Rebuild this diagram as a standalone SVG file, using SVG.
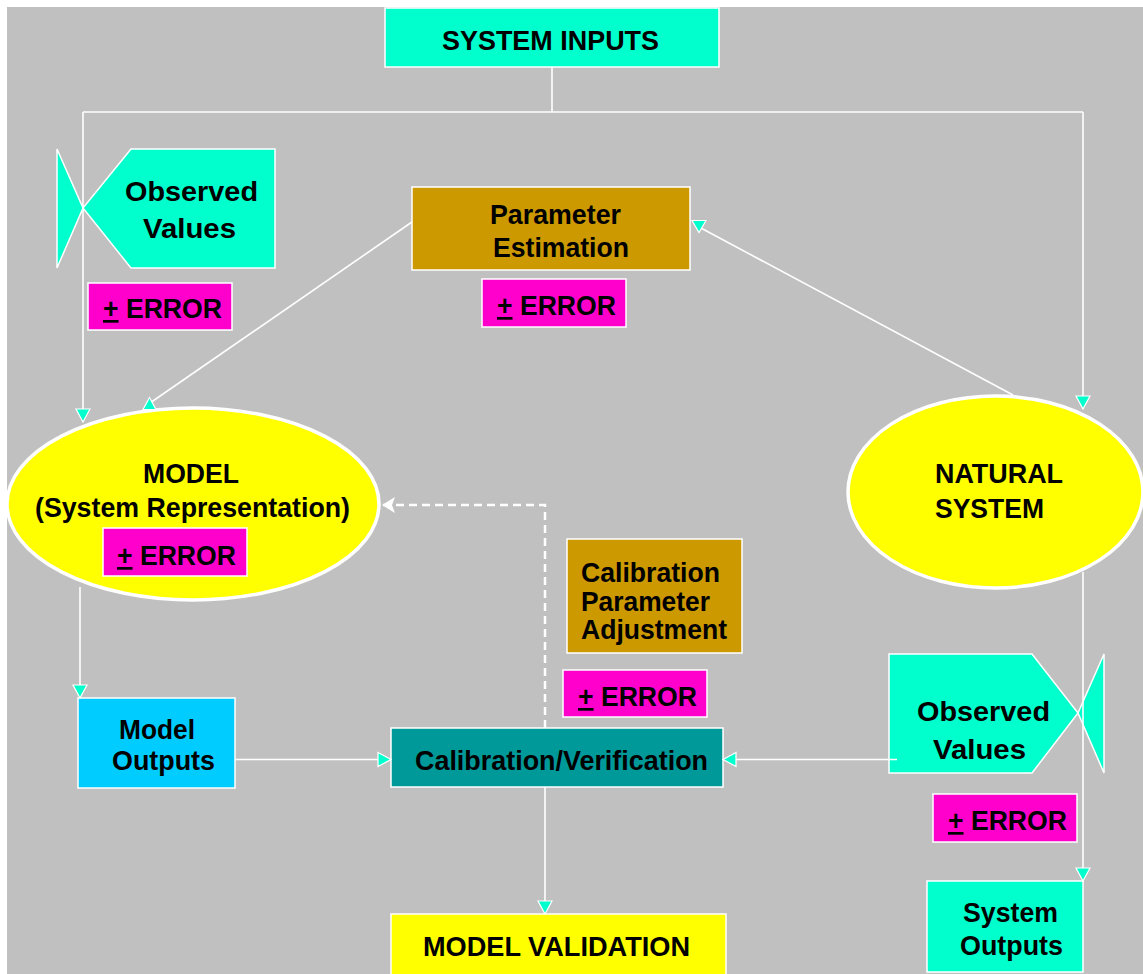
<svg xmlns="http://www.w3.org/2000/svg" width="1143" height="974" viewBox="0 0 1143 974">
<defs>
<style>
text{font-family:"Liberation Sans",Arial,Helvetica,sans-serif;font-weight:bold;font-size:28px;fill:#000}
.err{font-size:27px}
.box{stroke:#fff;stroke-width:1.5}
.cyan{fill:#00FFCC}
.gold{fill:#CC9900}
.mag{fill:#FF00CC}
.teal{fill:#009999}
.sky{fill:#00CCFF}
.yel{fill:#FFFF00}
.ell{fill:#FFFF00;stroke:#fff;stroke-width:3.5}
.conn{stroke:#fff;stroke-width:1.6;fill:none}
.dash{stroke:#fff;stroke-width:2.5;fill:none;stroke-dasharray:8 5}
</style>
<marker id="arr" markerUnits="userSpaceOnUse" viewBox="-2 -2 18 18" markerWidth="18" markerHeight="18" refX="13" refY="7" orient="auto">
<path d="M0,0 L13,7 L0,14 Z" fill="#00FFCC" stroke="#fff" stroke-width="1.2"/>
</marker>
<marker id="arrUp" markerUnits="userSpaceOnUse" viewBox="-2 -2 18 18" markerWidth="18" markerHeight="18" refX="6.5" refY="7" orient="-90">
<path d="M0,0 L12,6.5 L0,13 Z" fill="#00FFCC" stroke="#fff" stroke-width="1.2"/>
</marker>
<marker id="arrDown" markerUnits="userSpaceOnUse" viewBox="-2 -2 18 18" markerWidth="18" markerHeight="18" refX="6.5" refY="7" orient="90">
<path d="M0,0 L12,7 L0,14 Z" fill="#00FFCC" stroke="#fff" stroke-width="1.2"/>
</marker>
<marker id="warr" markerUnits="userSpaceOnUse" viewBox="-2 -2 18 20" markerWidth="18" markerHeight="20" refX="13" refY="8" orient="auto">
<path d="M0,0 L13,8 L0,16 L3,8 Z" fill="#fff"/>
</marker>
</defs>
<rect x="0" y="0" width="1143" height="974" fill="#fff"/>
<rect x="7" y="7" width="1136" height="967" fill="#C0C0C0"/>

<g id="system-inputs">
<rect class="box cyan" x="385" y="8" width="334" height="59"/>
<text x="442" y="50" textLength="217" lengthAdjust="spacingAndGlyphs">SYSTEM INPUTS</text>
</g>

<g id="observed-values-left">
<polygon class="box cyan" points="57,149 83,208 57,268"/>
<polygon class="box cyan" points="83,208 131,149 275,149 275,268 131,268"/>
<text x="125" y="201" textLength="133" lengthAdjust="spacingAndGlyphs">Observed</text>
<text x="143" y="238" textLength="93" lengthAdjust="spacingAndGlyphs">Values</text>
</g>

<g id="error-1">
<rect class="box mag" x="88" y="283" width="144" height="47"/>
<text class="err" x="103" y="318" textLength="119" lengthAdjust="spacingAndGlyphs"><tspan text-decoration="underline">+</tspan> ERROR</text>
</g>

<g id="parameter-estimation">
<rect class="box gold" x="412" y="187" width="278" height="83"/>
<text x="490" y="224" textLength="131" lengthAdjust="spacingAndGlyphs">Parameter</text>
<text x="493" y="257" textLength="136" lengthAdjust="spacingAndGlyphs">Estimation</text>
</g>

<g id="error-2">
<rect class="box mag" x="482" y="279" width="144" height="48"/>
<text class="err" x="497" y="315" textLength="119" lengthAdjust="spacingAndGlyphs"><tspan text-decoration="underline">+</tspan> ERROR</text>
</g>

<g id="model">
<ellipse class="ell" cx="193" cy="504" rx="186" ry="96"/>
<text x="143" y="483" textLength="96" lengthAdjust="spacingAndGlyphs">MODEL</text>
<text x="35" y="517" textLength="315" lengthAdjust="spacingAndGlyphs">(System Representation)</text>
</g>

<g id="error-3">
<rect class="box mag" x="103" y="528" width="144" height="48"/>
<text class="err" x="117" y="565" textLength="119" lengthAdjust="spacingAndGlyphs"><tspan text-decoration="underline">+</tspan> ERROR</text>
</g>

<g id="natural-system">
<ellipse class="ell" cx="995.5" cy="492" rx="147.5" ry="96"/>
<text x="935" y="483" textLength="128" lengthAdjust="spacingAndGlyphs">NATURAL</text>
<text x="935" y="518" textLength="109" lengthAdjust="spacingAndGlyphs">SYSTEM</text>
</g>

<g id="calibration-parameter-adjustment">
<rect class="box gold" x="567" y="539" width="175" height="114"/>
<text x="581" y="582" textLength="139" lengthAdjust="spacingAndGlyphs">Calibration</text>
<text x="581" y="611" textLength="129" lengthAdjust="spacingAndGlyphs">Parameter</text>
<text x="581" y="639" textLength="146" lengthAdjust="spacingAndGlyphs">Adjustment</text>
</g>

<g id="error-4">
<rect class="box mag" x="563" y="670" width="144" height="47"/>
<text class="err" x="578" y="706" textLength="119" lengthAdjust="spacingAndGlyphs"><tspan text-decoration="underline">+</tspan> ERROR</text>
</g>

<g id="model-outputs">
<rect class="box sky" x="78" y="698" width="157" height="90"/>
<text x="119" y="739" textLength="76" lengthAdjust="spacingAndGlyphs">Model</text>
<text x="112" y="770" textLength="103" lengthAdjust="spacingAndGlyphs">Outputs</text>
</g>

<g id="calibration-verification">
<rect class="box teal" x="391" y="728" width="332" height="59"/>
<text x="415" y="770" textLength="293" lengthAdjust="spacingAndGlyphs">Calibration/Verification</text>
</g>

<g id="observed-values-right">
<polygon class="box cyan" points="1104,654 1078,713 1104,773"/>
<polygon class="box cyan" points="889,654 1032,654 1078,713 1032,773 889,773"/>
<text x="917" y="721" textLength="133" lengthAdjust="spacingAndGlyphs">Observed</text>
<text x="933" y="759" textLength="93" lengthAdjust="spacingAndGlyphs">Values</text>
</g>

<g id="error-5">
<rect class="box mag" x="933" y="794" width="144" height="48"/>
<text class="err" x="948" y="830" textLength="119" lengthAdjust="spacingAndGlyphs"><tspan text-decoration="underline">+</tspan> ERROR</text>
</g>

<g id="system-outputs">
<rect class="box cyan" x="927" y="881" width="156" height="91"/>
<text x="963" y="922" textLength="95" lengthAdjust="spacingAndGlyphs">System</text>
<text x="960" y="955" textLength="103" lengthAdjust="spacingAndGlyphs">Outputs</text>
</g>

<g id="model-validation">
<rect class="box yel" x="391" y="914" width="335" height="62"/>
<text x="423" y="956" textLength="267" lengthAdjust="spacingAndGlyphs">MODEL VALIDATION</text>
</g>

<g id="connectors">
<path class="conn" d="M552,67 V112"/>
<path class="conn" d="M83,112 H1083"/>
<path class="conn" d="M83,112 V422" marker-end="url(#arr)"/>
<path class="conn" d="M1083,112 V409" marker-end="url(#arr)"/>
<path class="conn" d="M412,222 L150,403" marker-end="url(#arrUp)"/>
<path class="conn" d="M1013,395 L699,227" marker-end="url(#arrDown)"/>
<path class="conn" d="M80,587 V698" marker-end="url(#arr)"/>
<path class="conn" d="M235,759.5 H391" marker-end="url(#arr)"/>
<path class="conn" d="M897,759.5 H723" marker-end="url(#arr)"/>
<path class="conn" d="M545,787 V914" marker-end="url(#arr)"/>
<path class="conn" d="M1083,572 V881" marker-end="url(#arr)"/>
<path class="dash" d="M545,728 V505 H382" marker-end="url(#warr)"/>
</g>
</svg>
